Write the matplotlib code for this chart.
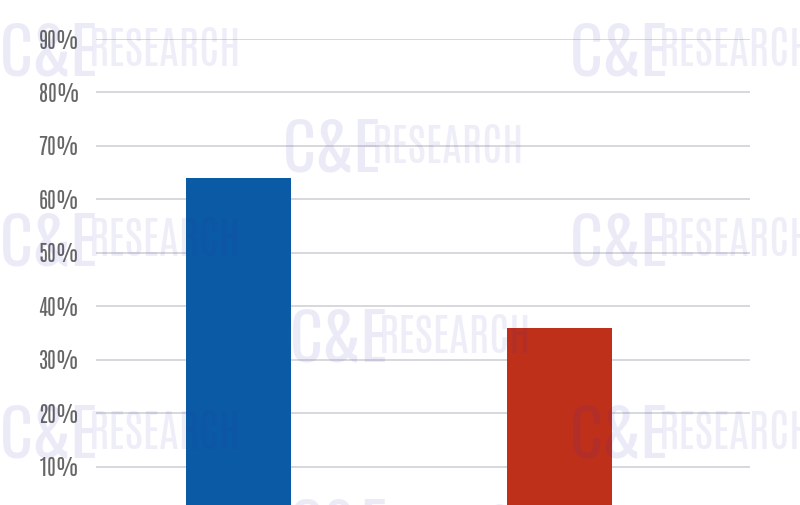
import matplotlib
matplotlib.use("Agg")
import matplotlib.pyplot as plt
from matplotlib import font_manager as fm

categories = ["A", "B"]
values = [64, 36]
bar_colors = ["#0b5aa5", "#bf301b"]
yticks = [0, 10, 20, 30, 40, 50, 60, 70, 80, 90]
ytick_labels = [f"{v}%" for v in yticks]

names = {f.name for f in fm.fontManager.ttflist}
def pick(cands):
    for c in cands:
        if c in names:
            return c
    return "DejaVu Sans"

tickfont = pick(["Antonio", "Bebas Neue", "Oswald", "Roboto Condensed"])
cefont = pick(["Oswald", "Bebas Neue", "Roboto Condensed", "Asap Condensed"])
resfont = pick(["Antonio", "Oswald", "Roboto Condensed"])

W, H = 800, 505
fig = plt.figure(figsize=(8.0, 5.05), dpi=100)
fig.patch.set_facecolor("white")

y0_px, y90_px = 520, 39
ax = fig.add_axes([96 / W, (H - y0_px) / H, (750 - 96) / W, (y0_px - y90_px) / H])
ax.set_ylim(0, 90)
ax.set_xlim(-0.444, 1.593)

x = list(range(len(categories)))
ax.bar(x, values, width=0.327, color=bar_colors, zorder=3)

ax.set_yticks(yticks)
ax.set_yticklabels(ytick_labels, fontfamily=tickfont, fontweight=400, fontsize=15.5, color="#666666")
ax.tick_params(axis="y", length=0, pad=12)
ax.set_xticks([])
ax.grid(axis="y", color="#d4d4dc", linewidth=1.3, zorder=0)
for s in ax.spines.values():
    s.set_visible(False)

wm_color = "#2b2bb0"
wm_alpha = 0.09
positions = [(0, 75), (570, 75), (283, 172), (0, 265), (570, 265),
             (290, 362), (0, 458), (570, 458), (290, 552)]
for (px, py) in positions:
    fig.text(px / W, (H - py) / H, "C&E", fontfamily=cefont, fontweight="bold",
             fontsize=46, color=wm_color, alpha=wm_alpha, ha="left", va="baseline",
             zorder=10)
    fig.text((px + 89) / W, (H - py + 9) / H, "RESEARCH", fontfamily=resfont,
             fontweight=200, fontsize=32, color=wm_color, alpha=wm_alpha * 0.85,
             ha="left", va="baseline", zorder=10)

fig.savefig("out.png", dpi=100, facecolor="white")
